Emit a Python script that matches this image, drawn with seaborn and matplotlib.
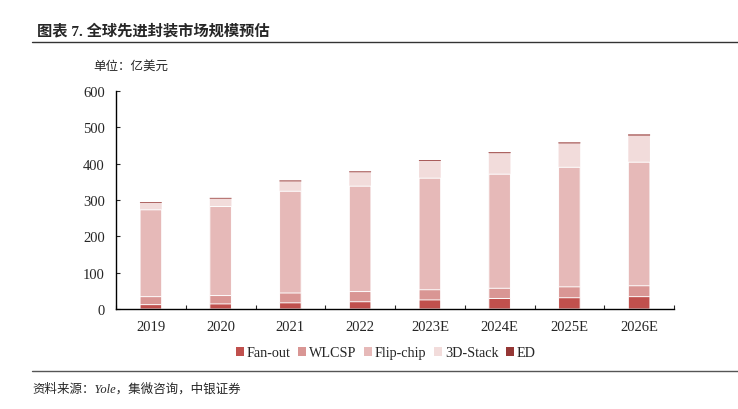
import numpy as np
import pandas as pd
import seaborn as sns
import matplotlib
matplotlib.use("Agg")
import matplotlib.pyplot as plt
from matplotlib.patches import Patch
from matplotlib.lines import Line2D

years = ["2019", "2020", "2021", "2022", "2023E", "2024E", "2025E", "2026E"]
fan_out = [12, 14, 17, 20, 25, 29, 31, 34]
wlcsp = [22, 23, 27, 28, 28, 28, 30, 30]
flip_chip = [239, 245, 280, 290, 307, 314, 329, 340]
stack_3d = [20, 23, 28, 39, 48, 58.5, 66.5, 74]
ed = [0.3, 0.3, 1, 1, 1, 1.5, 1.5, 2]

series_names = ["Fan-out", "WLCSP", "Flip-chip", "3D-Stack", "ED"]
series_vals = [fan_out, wlcsp, flip_chip, stack_3d, ed]
colors = ["#C0504D", "#D99694", "#E6B9B8", "#F2DCDB", "#953735"]

sns.set_style("white")
plt.rcParams['font.family'] = ['Liberation Serif', 'Noto Sans CJK SC']

fig = plt.figure(figsize=(7.38, 4.10), dpi=100)
ax = fig.add_axes([116/738, 1 - 310/410, (674-116)/738, (310-92)/410])

cum = np.cumsum(np.array(series_vals, dtype=float), axis=0)
# stacked layers 0..3 drawn as cumulative totals, largest first
for i in range(3, -1, -1):
    df = pd.DataFrame({"year": years, "value": cum[i]})
    lw = 0 if i == 3 else 0.7
    sns.barplot(data=df, x="year", y="value", color=colors[i], width=0.31,
                edgecolor="white", linewidth=lw, saturation=1, ax=ax)
# ED on top of the stack
df_ed = pd.DataFrame({"year": years, "value": ed})
sns.barplot(data=df_ed, x="year", y="value", color=colors[4], width=0.31,
            edgecolor=colors[4], linewidth=0.3, saturation=1, ax=ax,
            bottom=cum[3], alpha=0.85)
for p in ax.patches:
    p.set_snap(False)

ax.set_xlim(-0.5, 7.5)
ax.set_ylim(0, 600)
ax.set_yticks(range(0, 601, 100))
ax.set_xlabel("")
ax.set_ylabel("")
for s in ["top", "right"]:
    ax.spines[s].set_visible(False)
for s in ["left", "bottom"]:
    ax.spines[s].set_color("black")
    ax.spines[s].set_linewidth(1.0)
ax.tick_params(axis="y", direction="in", length=3, width=0.8, labelsize=10.5, pad=8, left=True)
ax.tick_params(axis="x", which="major", length=0, labelsize=10.5, pad=8)
ax.set_xticks(np.arange(-0.5, 8.0, 1.0), minor=True)
ax.tick_params(axis="x", which="minor", direction="in", length=3, width=0.8, bottom=True)

# legend
handles = [Patch(facecolor=c, edgecolor="none") for c in colors]
fig.legend(handles, series_names, loc="center", bbox_to_anchor=(386/738, 1 - 354/410),
           ncol=5, frameon=False, fontsize=10.2, handlelength=0.55, handleheight=0.55,
           handletextpad=0.2, columnspacing=0.55)

mixed = ['Liberation Serif', 'Noto Sans CJK SC']
fig.text(37/738, 1 - 31/410, "图表 7. 全球先进封装市场规模预估", family=mixed,
         fontsize=11, fontweight="bold", va="center", ha="left")
fig.add_artist(Line2D([32/738, 1.0], [1 - 43/410, 1 - 43/410], color="#333333", linewidth=1.0))
fig.text(93/738, 1 - 66/410, "单位：亿美元", family=['Noto Sans CJK SC', 'DejaVu Sans'],
         fontsize=9, va="center", ha="left")
fig.add_artist(Line2D([32/738, 1.0], [1 - 372/410, 1 - 372/410], color="#555555", linewidth=1.0))
fig.text(32/738, 1 - 389/410, "资料来源：Yole，集微咨询，中银证券", family=mixed, fontsize=9,
         style="italic", va="center", ha="left")

fig.savefig("out.png", dpi=100)
